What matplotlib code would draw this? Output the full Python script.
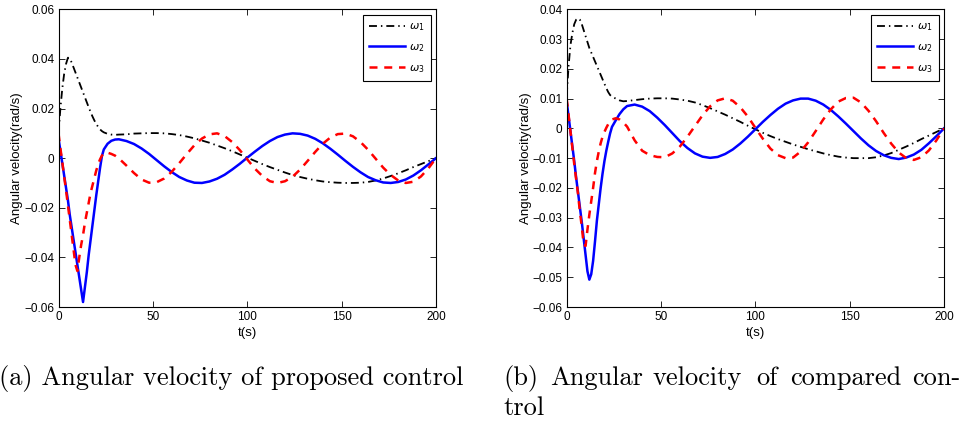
import matplotlib
matplotlib.use('Agg')
import matplotlib.pyplot as plt

plt.rcParams['font.family'] = ['Liberation Sans', 'DejaVu Sans']
plt.rcParams['mathtext.fontset'] = 'dejavusans'

# ---------------- data ----------------
t = [0, 1, 2, 3, 4, 5, 6, 7, 8, 9, 10, 11, 12, 13, 14, 15, 16, 17, 18, 19, 20, 21, 22, 23, 24,
     26, 28, 30, 32,
     36, 40, 44, 48, 52, 56, 60, 64, 68, 72, 76, 80, 84, 88, 92, 96, 100, 104, 108, 112,
     116, 120, 124, 128, 132, 136, 140, 144, 148, 152, 156, 160, 164, 168, 172, 176, 180,
     184, 188, 192, 196, 200]

# (a) proposed control
w1_a = [0.010, 0.020, 0.028, 0.034, 0.038, 0.0405, 0.0402, 0.0385, 0.0365, 0.0345, 0.0325,
        0.0305, 0.0285, 0.0265, 0.0245, 0.0225, 0.0205, 0.0186, 0.0168, 0.0152, 0.0138,
        0.0126, 0.0116, 0.0109, 0.0104,
        0.0098, 0.0095, 0.0094, 0.0095,
        0.0096, 0.0099, 0.0100, 0.0101, 0.0101, 0.0100, 0.0097, 0.0093, 0.0087, 0.0080,
        0.0071, 0.0062, 0.0051, 0.0040, 0.0028, 0.0015, 0.0002, -0.0011, -0.0024, -0.0036,
        -0.0047, -0.0058, -0.0068, -0.0076, -0.0083, -0.0089, -0.0094, -0.0097, -0.0099, -0.0100,
        -0.0100, -0.0099, -0.0096, -0.0090, -0.0082, -0.0072, -0.0061, -0.0049, -0.0036, -0.0024,
        -0.0012, 0.0]
w2_a = [0.008, 0.003, -0.002, -0.007, -0.012, -0.017, -0.023, -0.028, -0.033, -0.038, -0.043,
        -0.048, -0.053, -0.058, -0.052, -0.046, -0.039, -0.033, -0.027, -0.021, -0.015,
        -0.0095, -0.004, 0.0008, 0.0035,
        0.0058, 0.0070, 0.0075, 0.0076,
        0.0069, 0.0057, 0.0039, 0.0017, -0.0008, -0.0033, -0.0056, -0.0076, -0.0090, -0.0099,
        -0.0100, -0.0094, -0.0083, -0.0067, -0.0046, -0.0023, 0.0002, 0.0026, 0.0049, 0.0069,
        0.0085, 0.0095, 0.0100, 0.0098, 0.0091, 0.0078, 0.0060, 0.0038, 0.0014, -0.0011,
        -0.0035, -0.0057, -0.0076, -0.0089, -0.0098, -0.0100, -0.0096, -0.0086, -0.0070, -0.0049,
        -0.0025, 0.0]
w3_a = [0.010, 0.004, -0.0015, -0.0075, -0.013, -0.019, -0.025, -0.031, -0.037, -0.043, -0.0455,
        -0.040, -0.035, -0.031, -0.026, -0.022, -0.018, -0.014, -0.011, -0.008, -0.005,
        -0.0025, -0.0005, 0.001, 0.0021,
        0.0022, 0.0017, 0.0010, -0.0001,
        -0.0030, -0.0060, -0.0086, -0.0099, -0.0097, -0.0082, -0.0055, -0.0020, 0.0017, 0.0052,
        0.0079, 0.0096, 0.0100, 0.0089, 0.0065, 0.0033, -0.0005, -0.0042, -0.0072, -0.0093,
        -0.0100, -0.0093, -0.0075, -0.0046, -0.0011, 0.0025, 0.0058, 0.0083, 0.0097, 0.0099,
        0.0088, 0.0065, 0.0034, -0.0002, -0.0038, -0.0068, -0.0090, -0.0100, -0.0095, -0.0074,
        -0.0041, 0.0]

# (b) compared control
w1_b = [0.011, 0.021, 0.028, 0.032, 0.035, 0.0365, 0.037, 0.0365, 0.035, 0.033, 0.031,
        0.029, 0.027, 0.0255, 0.024, 0.0225, 0.021, 0.0195, 0.018, 0.0165, 0.015,
        0.0135, 0.0122, 0.0112, 0.0107,
        0.0100, 0.0094, 0.0091, 0.0092,
        0.0095, 0.0098, 0.0100, 0.0101, 0.0101, 0.0100, 0.0097, 0.0093, 0.0087, 0.0078,
        0.0068, 0.0057, 0.0046, 0.0034, 0.0022, 0.0009, -0.0003, -0.0015, -0.0026, -0.0036,
        -0.0045, -0.0054, -0.0062, -0.0070, -0.0077, -0.0084, -0.0090, -0.0095, -0.0098, -0.0100,
        -0.0100, -0.0100, -0.0097, -0.0091, -0.0083, -0.0072, -0.0061, -0.0049, -0.0036, -0.0024,
        -0.0012, 0.0]
w2_b = [0.009, 0.004, -0.001, -0.006, -0.011, -0.0165, -0.0215, -0.0265, -0.0315, -0.037, -0.0425,
        -0.048, -0.0508, -0.049, -0.0445, -0.038, -0.031, -0.0255, -0.020, -0.0152, -0.011,
        -0.0075, -0.0045, -0.0017, 0.0005,
        0.0027, 0.0048, 0.0064, 0.0075,
        0.0080, 0.0073, 0.0058, 0.0036, 0.0011, -0.0016, -0.0043, -0.0066, -0.0084, -0.0095,
        -0.0099, -0.0096, -0.0086, -0.0071, -0.0051, -0.0028, -0.0003, 0.0022, 0.0045, 0.0066,
        0.0083, 0.0094, 0.0100, 0.0100, 0.0093, 0.0080, 0.0062, 0.0040, 0.0016, -0.0009,
        -0.0034, -0.0057, -0.0076, -0.0090, -0.0099, -0.0103, -0.0098, -0.0088, -0.0072, -0.0050,
        -0.0026, 0.0]
w3_b = [0.010, 0.0045, -0.001, -0.0065, -0.012, -0.017, -0.022, -0.028, -0.033, -0.039, -0.0395,
        -0.034, -0.029, -0.0245, -0.020, -0.015, -0.011, -0.0078, -0.005, -0.0028, -0.0012,
        0.0002, 0.0014, 0.0023, 0.0030,
        0.0034, 0.0030, 0.0020, 0.0006,
        -0.0040, -0.0075, -0.0090, -0.0096, -0.0097, -0.0084, -0.0061, -0.0028, 0.0008, 0.0044,
        0.0074, 0.0094, 0.0101, 0.0093, 0.0071, 0.0040, 0.0002, -0.0035, -0.0068, -0.0090,
        -0.0100, -0.0098, -0.0078, -0.0047, -0.0009, 0.0030, 0.0064, 0.0090, 0.0102, 0.0103,
        0.0087, 0.0059, 0.0024, -0.0015, -0.0051, -0.0081, -0.0100, -0.0106, -0.0097, -0.0074,
        -0.0040, 0.0]

series_labels = [r'$\omega_1$', r'$\omega_2$', r'$\omega_3$']
x_ticks = [0, 50, 100, 150, 200]
x_ticklabels = ['0', '50', '100', '150', '200']
y_ticks_a = [-0.06, -0.04, -0.02, 0, 0.02, 0.04, 0.06]
y_ticklabels_a = ['\u22120.06', '\u22120.04', '\u22120.02', '0', '0.02', '0.04', '0.06']
y_ticks_b = [-0.06, -0.05, -0.04, -0.03, -0.02, -0.01, 0, 0.01, 0.02, 0.03, 0.04]
y_ticklabels_b = ['\u22120.06', '\u22120.05', '\u22120.04', '\u22120.03', '\u22120.02', '\u22120.01',
                  '0', '0.01', '0.02', '0.03', '0.04']
xlabel = 't(s)'
ylabel = 'Angular velocity(rad/s)'
caption_a = '(a) Angular velocity of proposed control'
caption_b_words = ['(b)', 'Angular', 'velocity', 'of', 'compared', 'con-']
caption_b_line2 = 'trol'

# ---------------- figure ----------------
W, H = 960, 426
fig = plt.figure(figsize=(9.6, 4.26), dpi=100)


def add_ax(x0, x1, ytop, ybot):
    return fig.add_axes([x0 / W, 1 - ybot / H, (x1 - x0) / W, (ybot - ytop) / H])


def draw(ax, w1, w2, w3, yticks, yticklabels, ylim):
    ax.plot(t, w1, color='k', lw=1.3, dashes=(4.4, 2.2, 0.8, 2.2), label=series_labels[0])
    ax.plot(t, w2, color='#0000FF', lw=1.8, label=series_labels[1])
    ax.plot(t, w3, color='#FF0000', lw=1.8, dashes=(3.2, 2.7), label=series_labels[2])
    ax.set_xlim(0, 200)
    ax.set_ylim(*ylim)
    ax.set_xticks(x_ticks)
    ax.set_xticklabels(x_ticklabels)
    ax.set_yticks(yticks)
    ax.set_yticklabels(yticklabels)
    ax.tick_params(direction='in', top=True, right=True, length=4, width=0.6,
                   labelsize=8.5, pad=3)
    for s in ax.spines.values():
        s.set_linewidth(0.8)
    ax.set_xlabel(xlabel, fontsize=9.5)
    ax.set_ylabel(ylabel, fontsize=9.5)
    leg = ax.legend(loc='upper right', bbox_to_anchor=(1 - 5 / 377.5, 1 - 6 / 297.7),
                    borderaxespad=0, fancybox=False, edgecolor='k', framealpha=1,
                    fontsize=8, handlelength=3.2, handletextpad=0.4, labelspacing=0.8,
                    borderpad=0.55)
    leg.get_frame().set_linewidth(0.8)
    return ax


ax_a = add_ax(58.5, 436, 9.3, 307)
draw(ax_a, w1_a, w2_a, w3_a, y_ticks_a, y_ticklabels_a, (-0.06, 0.06))
ax_a.yaxis.set_label_coords((23 - 58.5) / 377.5, 0.5)
ax_a.xaxis.set_label_coords(0.5, (307 - 327) / 297.7)

ax_b = add_ax(566.7, 944, 9.3, 307)
draw(ax_b, w1_b, w2_b, w3_b, y_ticks_b, y_ticklabels_b, (-0.06, 0.04))
ax_b.yaxis.set_label_coords((532 - 566.7) / 377.3, 0.5)
ax_b.xaxis.set_label_coords(0.5, (307 - 327) / 297.7)

cap_kw = dict(fontsize=19, family='cmr10', va='baseline', ha='left')
fig.text(-1 / W, 1 - 385 / H, caption_a, **cap_kw)
for word, xp in zip(caption_b_words, [503, 550, 653, 756, 790, 912]):
    fig.text(xp / W, 1 - 385 / H, word, **cap_kw)
fig.text(503 / W, 1 - 415 / H, caption_b_line2, **cap_kw)

fig.savefig('out.png', dpi=100)
